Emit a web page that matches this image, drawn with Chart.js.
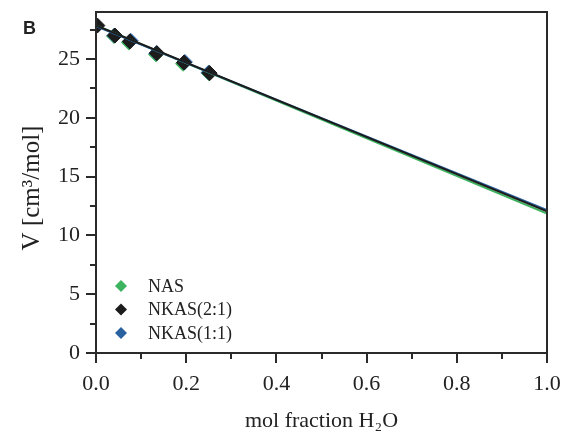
<!DOCTYPE html>
<html>
<head>
<meta charset="utf-8">
<script src="https://cdn.jsdelivr.net/npm/chart.js@4"></script>
<style>
html,body{margin:0;padding:0;background:#fff;}
#wrap{width:565px;height:432px;position:relative;}
</style>
</head>
<body>
<div id="wrap"><canvas id="c" width="565" height="432"></canvas></div>
<script>
// ---- data ----
const seriesLabels = ['NAS', 'NKAS(2:1)', 'NKAS(1:1)'];
const xNAS   = [0.000, 0.040, 0.073, 0.133, 0.193, 0.250];
const yNAS   = [27.80, 26.95, 26.40, 25.40, 24.60, 23.80];
const xNKAS21 = [0.003, 0.042, 0.075, 0.135, 0.195, 0.252];
const yNKAS21 = [27.85, 27.00, 26.50, 25.50, 24.70, 23.80];
const xNKAS11 = [0.001, 0.041, 0.077, 0.134, 0.197, 0.250];
const yNKAS11 = [27.80, 27.00, 26.55, 25.50, 24.75, 23.85];
// linear fits (endpoints at x = 0 and x = 1)
const fitX = [0, 1];
const fitNAS   = [27.85, 11.85];
const fitNKAS21 = [27.85, 12.05];
const fitNKAS11 = [27.80, 12.15];
const xTicksMajor = [0, 0.2, 0.4, 0.6, 0.8, 1.0];
const yTicksMajor = [0, 5, 10, 15, 20, 25];

const colors = ['#3db35f', '#1c1c1c', '#2a62a0'];
const serif = '"Liberation Serif", "Times New Roman", serif';

function pts(xs, ys){ return xs.map((x,i)=>({x:x, y:ys[i]})); }

const pointSets = [pts(xNAS,yNAS), pts(xNKAS21,yNKAS21), pts(xNKAS11,yNKAS11)];
const fitSets = [pts(fitX,fitNAS), pts(fitX,fitNKAS21), pts(fitX,fitNKAS11)];

const datasets = [];
const lineOrder = [2, 0, 1];
fitSets.forEach((d,i)=>{
  datasets.push({label: seriesLabels[i]+' fit', data:d, showLine:true, borderColor:colors[i],
    borderWidth:2, pointRadius:0, fill:false, order: lineOrder[i]});
});
const ptOrder = [5, 3, 4];
pointSets.forEach((d,i)=>{
  datasets.push({label: seriesLabels[i], data:d, showLine:false, pointStyle:'rectRot',
    pointRadius:7.5, backgroundColor:colors[i], borderColor:colors[i], borderWidth:1, order: ptOrder[i]});
});

const L = 96, R = 547, T = 12, B = 353;

function noPad(s){ s.paddingTop = 0; s.paddingBottom = 0; s.paddingLeft = 0; s.paddingRight = 0; }

const decor = {
  id:'decor',
  afterDraw(chart){
    const ctx = chart.ctx, a = chart.chartArea;
    const xs = chart.scales.x, ys = chart.scales.y;
    ctx.save();
    ctx.strokeStyle = '#2a2a2a'; ctx.lineWidth = 2;
    ctx.strokeRect(a.left, a.top, a.right-a.left, a.bottom-a.top);
    for (let i=0;i<=10;i++){
      const v = i/10, px = Math.round(xs.getPixelForValue(v));
      const len = (i%2===0)?10:6;
      ctx.beginPath(); ctx.moveTo(px, a.bottom); ctx.lineTo(px, a.bottom+len); ctx.stroke();
    }
    for (let i=0;i<=11;i++){
      const v = i*2.5, py = Math.round(ys.getPixelForValue(v));
      const len = (i%2===0)?10:6;
      ctx.beginPath(); ctx.moveTo(a.left, py); ctx.lineTo(a.left-len, py); ctx.stroke();
    }
    // legend
    ctx.textBaseline = 'middle'; ctx.textAlign = 'left';
    ctx.font = '18px ' + serif;
    seriesLabels.forEach((lab,i)=>{
      const cy = 286 + i*23.5, cx = 121;
      ctx.fillStyle = colors[i];
      ctx.beginPath();
      ctx.moveTo(cx, cy-6); ctx.lineTo(cx+6, cy); ctx.lineTo(cx, cy+6); ctx.lineTo(cx-6, cy); ctx.closePath();
      ctx.fill();
      ctx.fillStyle = '#222';
      ctx.fillText(lab, 148, cy+1);
    });
    // axis titles
    ctx.fillStyle = '#222';
    ctx.font = '22px ' + serif;
    ctx.textAlign = 'center'; ctx.textBaseline = 'alphabetic';
    ctx.fillText('mol fraction H\u2082O', (a.left+a.right)/2, 427);
    ctx.save();
    ctx.translate(39, 188); ctx.rotate(-Math.PI/2);
    ctx.font = '25px ' + serif;
    ctx.fillText('V [cm\u00B3/mol]', 0, 0);
    ctx.restore();
    ctx.font = 'bold 18px "Liberation Sans", Arial, sans-serif';
    ctx.textAlign = 'left'; ctx.textBaseline = 'alphabetic';
    ctx.fillText('B', 23, 34);
    ctx.restore();
  }
};

new Chart(document.getElementById('c'), {
  type:'scatter',
  data:{datasets},
  options:{
    responsive:false, animation:false, devicePixelRatio:1,
    layout:{padding:{left:0, right:565-R, top:T, bottom:0}},
    plugins:{legend:{display:false}, tooltip:{enabled:false}},
    scales:{
      x:{type:'linear', min:0, max:1,
        afterFit(s){ s.height = 432 - B; noPad(s); },
        grid:{display:false, drawTicks:false},
        border:{display:true, color:'#2a2a2a', width:2},
        ticks:{stepSize:0.2, padding:18, color:'#222', font:{family:serif, size:22},
          callback:(v)=>Number(v).toFixed(1), includeBounds:true, maxRotation:0, autoSkip:false}
      },
      y:{type:'linear', min:0, max:29,
        afterFit(s){ s.width = L; noPad(s); },
        grid:{display:false, drawTicks:false},
        border:{display:true, color:'#2a2a2a', width:2},
        ticks:{stepSize:5, padding:16, color:'#222', font:{family:serif, size:22}, includeBounds:false,
          callback:(v)=>String(v)}
      }
    }
  },
  plugins:[decor]
});
</script>
</body>
</html>
